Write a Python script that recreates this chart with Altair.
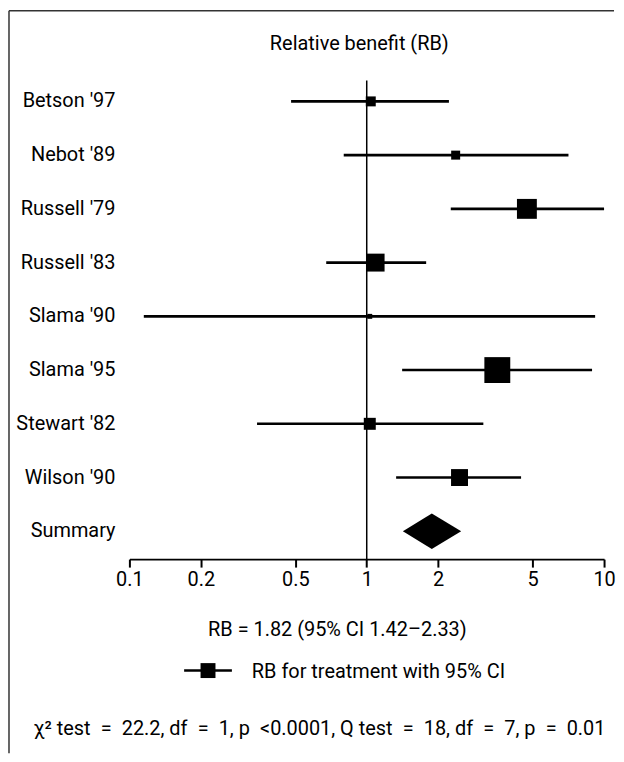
import altair as alt
import pandas as pd

# ---- data ----
studies = ["Betson '97", "Nebot '89", "Russell '79", "Russell '83",
           "Slama '90", "Slama '95", "Stewart '82", "Wilson '90"]
rb_values = [1.04, 2.37, 4.73, 1.09, 1.03, 3.55, 1.03, 2.46]
ci_low = [0.48, 0.80, 2.26, 0.675, 0.115, 1.41, 0.345, 1.33]
ci_high = [2.22, 7.08, 10.0, 1.78, 9.17, 8.90, 3.10, 4.47]
weights = [4.9, 4.0, 19.6, 15.9, 1.2, 33.2, 7.1, 14.2]   # % weight (square area)

summary_label = "Summary"
summary_points = [1.42, 1.88, 2.50]          # left tip, centre, right tip of diamond
tick_values = [0.1, 0.2, 0.5, 1, 2, 5, 10]

title_text = "Relative benefit (RB)"
summary_text = "RB = 1.82 (95% CI 1.42\u20132.33)"
legend_text = "RB for treatment with 95% CI"
stats_text = ("\u03c7\u00b2 test\u2002=\u200222.2, df\u2002=\u20021, p\u2002<0.0001, "
              "Q test\u2002=\u200218, df\u2002=\u20027, p\u2002=\u20020.01")

FONT = "Roboto"
FS = 20

W, H = 477, 481
n_rows = len(studies) + 1

df = pd.DataFrame({"study": studies, "rb": rb_values, "lo": ci_low,
                   "hi": ci_high, "weight": weights,
                   "row": list(range(len(studies)))})
labels_df = pd.DataFrame({"label": studies + [summary_label],
                          "row": list(range(n_rows))})
half = 0.33
srow = len(studies)
diamond_df = pd.DataFrame({"x": summary_points,
                           "y": [srow, srow - half, srow],
                           "y2": [srow, srow + half, srow]})

xscale = alt.Scale(type="log", domain=[0.1, 10], nice=False)
yscale = alt.Scale(domain=[-0.389, 8.518], reverse=True, nice=False, zero=False)
xaxis = alt.Axis(values=tick_values, format="~g", title=None, grid=False,
                 domainColor="black", domainWidth=2, tickColor="black",
                 tickWidth=2, tickSize=8, labelFontSize=FS, labelFont=FONT,
                 labelColor="black", labelPadding=3, labelFlush=False)

ref_line = alt.Chart(pd.DataFrame({"x": [1]})).mark_rule(
    color="black", strokeWidth=1.5).encode(
    x=alt.X("x:Q", scale=xscale, axis=xaxis))

bars = alt.Chart(df).mark_rule(color="black", strokeWidth=2.6).encode(
    x=alt.X("lo:Q", scale=xscale, axis=xaxis),
    x2="hi:Q",
    y=alt.Y("row:Q", scale=yscale, axis=None))

squares = alt.Chart(df).mark_square(color="black", opacity=1).encode(
    x=alt.X("rb:Q", scale=xscale, axis=xaxis),
    y=alt.Y("row:Q", scale=yscale, axis=None),
    size=alt.Size("weight:Q", scale=alt.Scale(domain=[0, 100], range=[0, 2040]),
                  legend=None))

diamond = alt.Chart(diamond_df).mark_area(color="black", orient="vertical",
                                          opacity=1).encode(
    x=alt.X("x:Q", scale=xscale, axis=xaxis),
    y=alt.Y("y:Q", scale=yscale, axis=None),
    y2="y2:Q")

row_labels = alt.Chart(labels_df).mark_text(
    align="right", baseline="middle", font=FONT, fontSize=FS, color="black").encode(
    x=alt.value(-14),
    y=alt.Y("row:Q", scale=yscale, axis=None),
    text="label:N")


def free_text(txt, x, y, align="center"):
    return alt.Chart(pd.DataFrame({"t": [txt]})).mark_text(
        align=align, baseline="middle", font=FONT, fontSize=FS, color="black").encode(
        x=alt.value(x), y=alt.value(y), text="t:N")


title = free_text(title_text, 231, -37)
summ = free_text(summary_text, 209, 552)
leg_txt = free_text(legend_text, 123, 594, align="left")
stats = free_text(stats_text, 191, 652)

one = pd.DataFrame({"k": [0]})
leg_line = alt.Chart(one).mark_rule(color="black", strokeWidth=2.6).encode(
    x=alt.value(55), x2=alt.value(103), y=alt.value(593))
leg_sq = alt.Chart(one).mark_square(color="black", opacity=1, size=225).encode(
    x=alt.value(79), y=alt.value(593))

border_left = alt.Chart(one).mark_rule(color="#333333", strokeWidth=1.5).encode(
    x=alt.value(-121), y=alt.value(-70), y2=alt.value(676))
border_top = alt.Chart(one).mark_rule(color="#333333", strokeWidth=1.5).encode(
    x=alt.value(-121), x2=alt.value(487), y=alt.value(-70))

chart = alt.layer(
    border_left, border_top, ref_line, bars, squares, diamond, row_labels,
    title, summ, leg_line, leg_sq, leg_txt, stats
).properties(width=W, height=H, padding=0).configure_view(stroke=None)

chart.save("out.html", embed_options={"renderer": "svg", "actions": False})
